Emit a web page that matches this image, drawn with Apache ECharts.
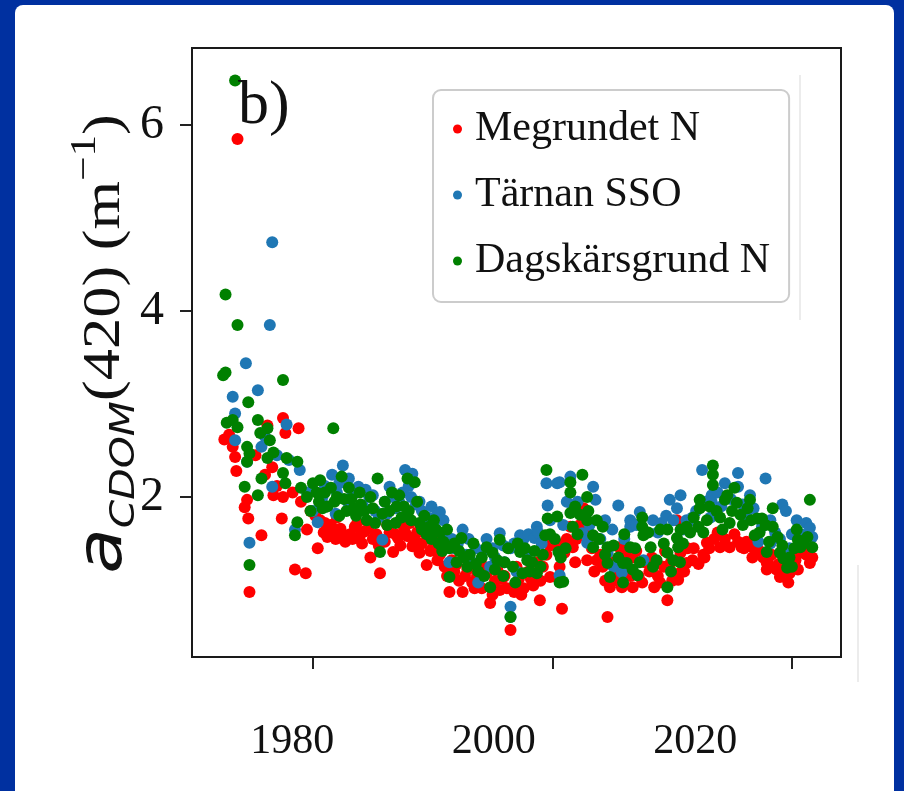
<!DOCTYPE html>
<html>
<head>
<meta charset="utf-8">
<script src="https://cdn.jsdelivr.net/npm/echarts@6/dist/echarts.min.js"></script>
<style>
html,body{margin:0;padding:0;background:#0030a0;}
#chart{width:904px;height:791px;}
</style>
</head>
<body>
<div id="chart"></div>
<script>
const seriesNames = ['Megrundet N', 'Tärnan SSO', 'Dagskärsgrund N'];
const xTickValues = [1980, 2000, 2020];
const yTickValues = [2, 4, 6];
const panelLabel = 'b)';

const megrundetN = [[1972.6,2.62],[1973.0,2.67],[1973.3,2.54],[1973.5,2.43],[1973.6,2.28],[1973.7,5.85],[1974.3,1.89],[1974.5,1.97],[1974.6,1.77],[1974.7,0.98],[1975.2,2.45],[1975.7,1.59],[1976.0,2.24],[1976.2,2.77],[1976.6,2.32],[1976.7,2.02],[1977.0,2.12],[1977.4,1.77],[1977.5,2.0],[1977.5,2.85],[1977.7,2.69],[1978.3,2.05],[1978.5,1.22],[1978.8,2.74],[1979.0,1.95],[1979.4,1.18],[1979.5,1.65],[1979.8,1.85],[1980.2,1.8],[1980.4,1.45],[1980.6,1.75],[1980.9,1.62],[1981.0,1.72],[1981.2,1.57],[1981.5,1.7],[1981.8,1.65],[1981.9,1.55],[1982.0,1.78],[1982.3,1.66],[1982.5,1.6],[1982.7,1.52],[1983.1,1.6],[1983.3,1.55],[1983.5,1.68],[1983.7,1.72],[1983.9,1.58],[1984.1,1.5],[1984.3,1.63],[1984.6,1.66],[1984.8,1.35],[1985.0,1.55],[1985.3,1.6],[1985.5,1.48],[1985.6,1.18],[1986.0,1.52],[1986.2,1.7],[1986.4,1.62],[1986.7,1.41],[1986.9,1.6],[1987.1,1.56],[1987.3,1.48],[1987.5,1.7],[1987.7,1.62],[1987.9,1.58],[1988.1,1.72],[1988.3,1.47],[1988.5,1.55],[1988.7,1.62],[1988.9,1.4],[1989.1,1.5],[1989.3,1.62],[1989.5,1.27],[1989.8,1.42],[1990.0,1.45],[1990.2,1.55],[1990.4,1.32],[1990.6,1.38],[1990.8,1.45],[1991.0,1.25],[1991.2,1.15],[1991.4,0.98],[1991.6,1.32],[1991.8,1.2],[1992.0,1.28],[1992.2,1.1],[1992.5,0.98],[1992.7,1.15],[1992.9,1.22],[1993.1,1.3],[1993.3,1.08],[1993.5,1.02],[1993.7,1.15],[1994.1,1.02],[1994.3,1.25],[1994.5,1.18],[1994.8,0.86],[1995.0,0.95],[1995.2,1.1],[1995.4,1.22],[1995.6,1.0],[1995.8,1.12],[1996.0,1.15],[1996.2,1.02],[1996.5,0.57],[1996.8,0.98],[1997.0,1.25],[1997.2,1.12],[1997.4,0.95],[1997.6,1.02],[1998.0,1.2],[1998.2,1.12],[1998.4,1.05],[1998.7,1.3],[1998.95,0.89],[1999.0,1.1],[1999.2,1.25],[1999.5,1.38],[1999.8,1.48],[1999.8,1.14],[2000.4,1.5],[2000.6,1.25],[2000.8,0.8],[2001.0,1.4],[2001.2,1.55],[2001.5,1.68],[2001.7,1.46],[2001.9,1.3],[2002.0,1.55],[2002.3,1.7],[2002.6,1.88],[2002.7,1.61],[2002.9,1.32],[2003.0,1.55],[2003.3,1.45],[2003.5,1.2],[2003.7,1.32],[2004.0,1.38],[2004.2,1.25],[2004.4,1.1],[2004.6,0.71],[2004.8,1.03],[2005.0,1.3],[2005.2,1.18],[2005.4,1.1],[2005.6,1.46],[2005.8,1.03],[2006.0,1.4],[2006.2,1.22],[2006.5,1.15],[2006.7,1.35],[2006.7,1.03],[2007.0,1.42],[2007.2,1.15],[2007.5,1.08],[2007.7,1.3],[2008.1,1.2],[2008.3,1.35],[2008.5,1.03],[2008.8,1.15],[2009.0,1.08],[2009.3,1.25],[2009.4,1.42],[2009.6,0.89],[2009.9,1.3],[2010.0,1.1],[2010.4,1.75],[2010.4,1.14],[2010.5,1.11],[2010.7,1.4],[2010.7,1.19],[2011.0,1.2],[2011.2,1.29],[2011.3,1.45],[2011.7,1.32],[2011.8,1.45],[2012.2,1.28],[2012.6,1.38],[2012.7,1.35],[2012.9,1.51],[2013.1,1.45],[2013.5,1.55],[2013.8,1.62],[2014.0,1.46],[2014.4,1.55],[2014.8,1.46],[2015.2,1.6],[2015.5,1.52],[2015.8,1.46],[2016.0,1.45],[2016.2,1.52],[2016.7,1.46],[2016.7,1.35],[2017.0,1.5],[2017.3,1.42],[2017.6,1.35],[2017.9,1.29],[2017.9,1.22],[2018.0,1.3],[2018.3,1.38],[2018.7,1.22],[2018.9,1.28],[2019.0,1.14],[2019.4,1.2],[2019.7,1.08],[2019.8,1.18],[2020.1,1.4],[2020.3,1.32],[2020.5,1.22],[2020.7,1.4],[2021.0,1.45],[2021.2,1.38],[2021.5,1.29],[2021.7,1.35]];

const tarnanSSO = [[1973.3,3.08],[1973.5,2.9],[1973.5,2.61],[1974.4,3.44],[1974.5,2.38],[1974.7,1.51],[1975.4,3.15],[1975.7,2.54],[1976.0,2.65],[1976.4,3.85],[1976.6,4.74],[1976.6,2.11],[1977.0,2.45],[1977.8,2.78],[1978.0,2.4],[1978.5,1.65],[1978.9,2.29],[1979.5,2.05],[1980.0,1.85],[1980.4,1.73],[1980.8,2.0],[1981.0,2.12],[1981.2,1.9],[1981.6,2.24],[1981.9,1.82],[1982.0,2.05],[1982.2,2.15],[1982.5,2.34],[1982.9,1.95],[1983.0,2.2],[1983.3,2.02],[1983.6,1.85],[1983.8,2.11],[1984.2,1.9],[1984.4,2.08],[1984.7,2.0],[1985.0,2.02],[1985.2,1.85],[1985.5,1.78],[1985.8,1.54],[1986.0,1.95],[1986.2,1.82],[1986.4,2.11],[1986.7,2.0],[1986.9,1.88],[1987.2,1.95],[1987.5,2.05],[1987.7,2.29],[1988.0,2.12],[1988.2,2.0],[1988.3,2.25],[1988.6,1.92],[1988.9,1.95],[1989.1,1.85],[1989.3,1.7],[1989.6,1.78],[1989.9,1.9],[1990.0,1.7],[1990.4,1.83],[1990.6,1.84],[1990.9,1.75],[1991.0,1.6],[1991.4,1.3],[1991.6,1.55],[1991.8,1.45],[1992.1,1.5],[1992.5,1.65],[1992.8,1.38],[1993.0,1.55],[1993.3,1.3],[1993.6,1.45],[1993.8,1.08],[1994.2,1.42],[1994.5,1.55],[1994.8,1.25],[1995.0,1.45],[1995.2,1.35],[1995.6,1.61],[1995.9,1.48],[1996.0,1.3],[1996.5,1.45],[1996.5,0.82],[1996.5,0.71],[1996.8,1.5],[1997.0,1.2],[1997.3,1.59],[1997.6,1.55],[1997.8,1.4],[1998.0,1.6],[1998.2,1.3],[1998.5,1.56],[1998.7,1.68],[1998.8,1.62],[1999.1,1.5],[1999.5,2.15],[1999.6,1.91],[1999.8,1.75],[2000.4,2.15],[2000.6,2.16],[2000.6,1.16],[2000.9,1.7],[2001.2,1.95],[2001.5,2.22],[2001.7,1.86],[2002.1,1.95],[2002.5,1.61],[2002.7,1.8],[2002.9,1.51],[2003.1,1.7],[2003.4,2.11],[2003.6,1.97],[2004.0,1.55],[2004.4,1.75],[2004.6,1.4],[2005.0,1.65],[2005.1,1.25],[2005.5,1.91],[2005.8,1.19],[2006.0,1.55],[2006.5,1.75],[2006.5,1.68],[2007.0,1.7],[2007.3,1.84],[2007.6,1.32],[2007.9,1.62],[2008.4,1.75],[2008.8,1.62],[2009.1,1.72],[2009.5,1.8],[2009.8,1.97],[2010.1,1.75],[2010.4,1.88],[2010.7,2.02],[2010.9,1.65],[2011.2,1.75],[2011.3,1.72],[2011.7,1.78],[2012.0,1.85],[2012.5,2.29],[2012.8,1.95],[2013.2,1.78],[2013.3,2.02],[2013.3,1.95],[2013.8,2.05],[2014.1,1.9],[2014.4,2.15],[2014.9,1.98],[2015.5,2.26],[2015.5,2.11],[2015.9,1.92],[2016.2,1.8],[2016.5,2.02],[2016.8,1.88],[2017.2,1.52],[2017.5,1.68],[2017.8,2.2],[2018.2,1.75],[2018.2,1.5],[2018.6,1.62],[2019.0,1.55],[2019.2,1.92],[2019.5,1.85],[2019.8,1.45],[2020.0,1.6],[2020.4,1.75],[2020.8,1.6],[2021.2,1.72],[2021.5,1.67],[2021.7,1.57]];

const dagskarsgrundN = [[1972.5,3.31],[1972.7,3.34],[1972.7,4.18],[1972.8,2.8],[1973.3,2.83],[1973.5,6.48],[1973.7,3.85],[1973.7,2.75],[1974.3,2.11],[1974.5,2.54],[1974.5,2.38],[1974.6,3.02],[1974.7,2.47],[1974.7,1.27],[1975.4,2.83],[1975.4,2.02],[1975.6,2.69],[1975.7,2.2],[1976.2,2.74],[1976.2,2.42],[1976.4,2.61],[1976.7,2.48],[1977.5,3.26],[1977.5,2.26],[1977.7,2.15],[1977.8,2.42],[1978.5,1.59],[1978.7,2.38],[1978.7,1.73],[1979.0,2.1],[1979.5,2.0],[1979.8,1.85],[1980.0,2.15],[1980.3,2.05],[1980.5,1.95],[1980.6,2.18],[1980.8,1.88],[1981.0,2.05],[1981.2,1.9],[1981.5,2.1],[1981.7,2.74],[1981.8,1.95],[1982.0,2.0],[1982.2,1.8],[1982.4,2.22],[1982.6,1.98],[1982.8,1.85],[1983.0,2.1],[1983.2,1.98],[1983.4,1.88],[1983.6,1.8],[1983.9,2.05],[1984.0,1.92],[1984.3,1.85],[1984.5,1.75],[1984.8,2.0],[1985.0,1.88],[1985.2,1.72],[1985.4,2.2],[1985.6,1.41],[1985.8,1.82],[1986.0,1.95],[1986.2,1.7],[1986.4,1.85],[1986.6,2.05],[1986.9,1.72],[1987.0,1.9],[1987.2,2.02],[1987.4,1.78],[1987.6,1.9],[1987.9,2.2],[1988.0,1.85],[1988.2,1.75],[1988.5,2.16],[1988.7,1.95],[1988.9,1.72],[1989.1,1.65],[1989.3,1.8],[1989.5,1.6],[1989.7,1.68],[1989.9,1.55],[1990.1,1.75],[1990.3,1.65],[1990.5,1.5],[1990.6,1.62],[1990.8,1.42],[1990.9,1.52],[1991.2,1.65],[1991.4,1.45],[1991.4,1.14],[1991.8,1.5],[1992.0,1.3],[1992.2,1.42],[1992.4,1.56],[1992.6,1.35],[1992.9,1.25],[1993.1,1.38],[1993.4,1.5],[1993.6,1.28],[1993.8,1.2],[1994.1,1.35],[1994.3,1.15],[1994.5,1.46],[1994.8,1.03],[1995.0,1.4],[1995.2,1.22],[1995.4,1.32],[1995.6,1.54],[1995.9,1.15],[1996.0,1.3],[1996.3,1.45],[1996.5,0.71],[1996.7,1.25],[1996.9,1.08],[1997.1,1.5],[1997.3,1.41],[1997.5,1.18],[1997.7,1.45],[1997.9,1.32],[1998.1,1.2],[1998.3,1.3],[1998.5,1.42],[1998.7,1.18],[1999.0,1.25],[1999.2,1.38],[1999.4,1.59],[1999.5,2.29],[1999.6,1.77],[1999.8,1.6],[2000.2,1.55],[2000.4,1.79],[2000.5,1.41],[2000.6,1.08],[2000.7,1.35],[2000.9,1.09],[2001.1,1.45],[2001.5,2.16],[2001.5,2.05],[2001.5,1.83],[2001.7,1.68],[2001.9,1.9],[2002.1,1.6],[2002.3,1.81],[2002.5,2.24],[2002.9,2.0],[2002.9,1.75],[2003.0,1.85],[2003.4,1.59],[2003.4,1.46],[2003.7,1.75],[2003.9,1.55],[2004.2,1.68],[2004.4,1.38],[2004.6,1.46],[2004.6,1.29],[2004.8,1.14],[2005.1,1.48],[2005.5,1.35],[2005.9,1.29],[2005.9,1.08],[2006.0,1.6],[2006.2,1.29],[2006.5,1.46],[2006.7,1.22],[2006.9,1.45],[2007.1,1.16],[2007.3,1.3],[2007.5,1.78],[2007.5,1.68],[2007.6,1.59],[2008.0,1.62],[2008.2,1.46],[2008.4,1.25],[2008.7,1.32],[2009.0,1.65],[2009.3,1.5],[2009.6,1.65],[2009.6,1.4],[2009.6,1.03],[2009.9,1.2],[2010.1,1.32],[2010.4,1.56],[2010.5,1.46],[2010.65,1.3],[2010.7,1.65],[2010.9,1.5],[2011.2,1.68],[2011.5,1.62],[2011.8,1.78],[2012.2,1.68],[2012.3,1.97],[2012.3,1.88],[2012.6,1.62],[2012.9,1.75],[2013.1,1.9],[2013.4,2.34],[2013.4,2.24],[2013.4,2.13],[2013.7,1.85],[2014.0,1.78],[2014.2,1.65],[2014.4,1.97],[2014.6,2.02],[2014.8,1.72],[2015.0,1.85],[2015.2,2.1],[2015.4,1.94],[2015.7,1.81],[2015.9,1.7],[2016.3,1.88],[2016.5,1.97],[2016.6,1.75],[2016.9,1.59],[2017.1,1.77],[2017.3,1.62],[2017.5,1.77],[2017.8,1.7],[2017.9,1.41],[2018.1,1.52],[2018.4,1.88],[2018.4,1.68],[2018.8,1.57],[2019.0,1.4],[2019.2,1.48],[2019.3,1.34],[2019.6,1.24],[2019.8,1.35],[2020.0,1.25],[2020.2,1.45],[2020.4,1.65],[2020.5,1.54],[2020.7,1.46],[2021.0,1.5],[2021.3,1.57],[2021.5,1.97],[2021.7,1.46]];

const seriesData = [megrundetN, tarnanSSO, dagskarsgrundN];
const seriesColors = ['#ff0000', '#1f77b4', '#008000'];

const SERIF = "'Liberation Serif', 'DejaVu Serif', serif";
const chart = echarts.init(document.getElementById('chart'), null, {renderer: 'canvas'});

const option = {
  backgroundColor: '#0030a0',
  animation: false,
  grid: [
    {left: 192, top: 48, width: 649, height: 609, show: true, borderColor: '#1a1a1a', borderWidth: 2, backgroundColor: 'transparent', z: 1},
    {left: 191.6, top: 700, width: 604.5, height: 10, show: false}
  ],
  xAxis: [
    {
      type: 'value', gridIndex: 0, min: 1969.9, max: 2024.1,
      axisLine: {show: true, onZero: false, lineStyle: {color: '#1a1a1a', width: 2}},
      axisTick: {show: true, length: 12, lineStyle: {color: '#222', width: 2}, customValues: xTickValues},
      axisLabel: {show: false},
      splitLine: {show: false}
    },
    {
      type: 'value', gridIndex: 1, min: 1970, max: 2030,
      axisLine: {show: false}, axisTick: {show: false}, splitLine: {show: false},
      axisLabel: {show: true, customValues: xTickValues, margin: 11, fontFamily: SERIF, fontSize: 42, color: '#111',
        formatter: v => String(v)}
    }
  ],
  yAxis: [
    {
      type: 'value', gridIndex: 0, min: 0.28, max: 6.83,
      axisLine: {show: true, onZero: false, lineStyle: {color: '#1a1a1a', width: 2}},
      axisTick: {show: true, length: 12, lineStyle: {color: '#222', width: 2}, customValues: yTickValues},
      axisLabel: {show: true, customValues: yTickValues, margin: 28, fontFamily: SERIF, fontSize: 48, color: '#111'},
      splitLine: {show: false}
    },
    {type: 'value', gridIndex: 1, show: false}
  ],
  legend: {
    orient: 'vertical', left: 433, top: 90,
    data: seriesNames,
    icon: 'circle', itemWidth: 9, itemHeight: 9, itemGap: 24,
    padding: [18, 19, 20, 20],
    backgroundColor: '#fff', borderColor: '#cccccc', borderWidth: 2, borderRadius: 8,
    textStyle: {fontFamily: SERIF, fontSize: 42, color: '#111', padding: [0, 0, 0, 8]}
  },
  graphic: [
    {type: 'rect', silent: true, z: -100, shape: {x: 15, y: 5, width: 879, height: 800, r: 8}, style: {fill: '#ffffff'}},
    {type: 'line', silent: true, shape: {x1: 800, y1: 75, x2: 800, y2: 320}, style: {stroke: '#e6e6e6', lineWidth: 1.5}},
    {type: 'line', silent: true, shape: {x1: 858, y1: 565, x2: 858, y2: 682}, style: {stroke: '#e6e6e6', lineWidth: 1.5}},
    {type: 'text', silent: true, x: 238, y: 76, z: 10,
      style: {text: panelLabel, fontFamily: SERIF, fontSize: 62, fill: '#111', align: 'left', verticalAlign: 'top'}},
    {type: 'text', silent: true, x: 105, y: 344, rotation: Math.PI / 2, scaleX: 1.2, z: 10,
      style: {
        text: '{a|a}{sub|CDOM}{n|(420) (m}{sup|−1}{n|)}',
        align: 'center', verticalAlign: 'middle', fill: '#111',
        rich: {
          a: {fontFamily: "'DejaVu Sans', sans-serif", fontStyle: 'italic', fontSize: 62, lineHeight: 74, verticalAlign: 'middle', fill: '#111'},
          sub: {fontFamily: "'DejaVu Sans', sans-serif", fontStyle: 'italic', fontSize: 34, lineHeight: 36, verticalAlign: 'bottom', fill: '#111'},
          n: {fontFamily: SERIF, fontSize: 52, lineHeight: 62, verticalAlign: 'middle', fill: '#111'},
          sup: {fontFamily: SERIF, fontSize: 36, lineHeight: 36, verticalAlign: 'top', fill: '#111'}
        }
      }}
  ],
  series: seriesNames.map((name, i) => ({
    name: name, type: 'scatter', xAxisIndex: 0, yAxisIndex: 0,
    data: seriesData[i], symbol: 'circle', symbolSize: 12,
    itemStyle: {color: seriesColors[i], opacity: 1},
    z: 3 + i
  }))
};
chart.setOption(option);
</script>
</body>
</html>
